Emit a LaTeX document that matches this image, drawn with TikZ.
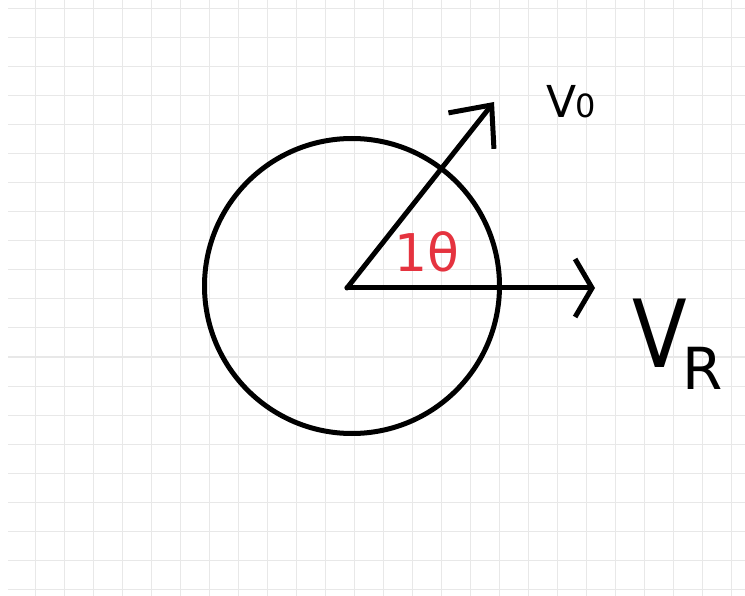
\documentclass[tikz,border=0pt]{standalone}
\usepackage{fontspec}
\setmainfont{DejaVu Sans}
\usetikzlibrary{arrows.meta}
\definecolor{gridgray}{HTML}{E8E8E8}
\definecolor{penred}{HTML}{E5333F}

\begin{document}
\begin{tikzpicture}[
        x=1pt, y=-1pt,
        pen/.style={line width=5pt, line cap=round, line join=round},
        gridline/.style={gridgray, line width=1pt},
        handtext/.style={inner sep=0pt, anchor=base west},
    ]
    \useasboundingbox (0,0) rectangle (745,596);
    \fill[white] (0,0) rectangle (745,596);
    % squared paper
    \foreach \gx in {0,...,24}
        \draw[gridline] (35+29*\gx,0) -- (35+29*\gx,596);
    \foreach \gy in {0,...,20}
        \draw[gridline] (8,9+29*\gy) -- (745,9+29*\gy);

    \coordinate (o)     at (347,288);
    \coordinate (vrtip) at (595,288);
    \coordinate (votip) at (494,102);

    \node[pen, draw, circle, inner sep=0pt, minimum size=295pt] (wheel) at (352,286) {};
    \draw[pen, -{Straight Barb[length=17pt 0, width=58pt 0]}] (o) -- (vrtip);
    \draw[pen, -{Straight Barb[length=33pt 0, width=58pt 0]}] (o) -- (votip);

    \node[handtext, font=\fontsize{44}{46}\selectfont] (vo) at (546,118)
        {V\kern-1pt{\fontsize{32}{32}\selectfont 0}};
    \node[handtext, font=\fontsize{94}{100}\selectfont] (vr) at (632,367)
        {\scalebox{0.85}[1]{V}\kern-4pt\raisebox{-22pt}{\fontsize{58}{58}\selectfont R}};
    \node[handtext, text=penred, font=\fontsize{52}{56}\selectfont] (theta) at (394,272) {1θ};
\end{tikzpicture}
\end{document}
